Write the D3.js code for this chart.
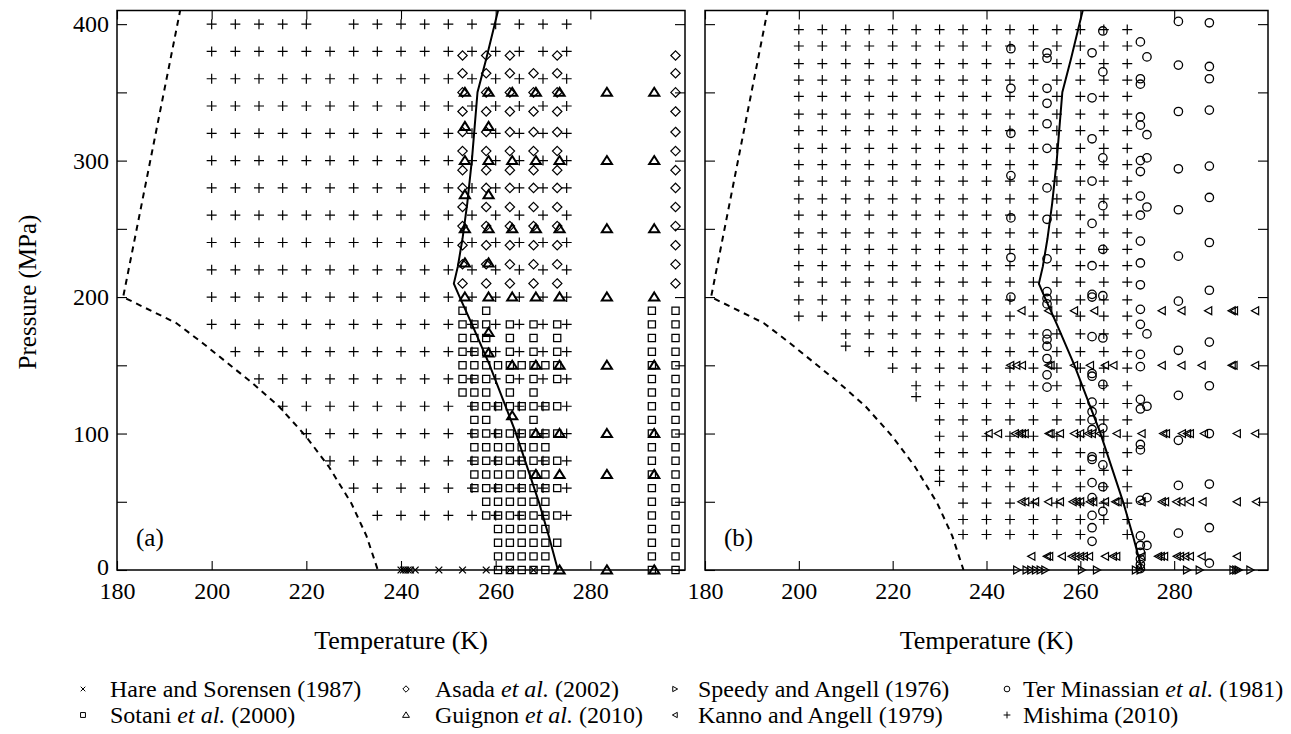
<!DOCTYPE html>
<html><head><meta charset="utf-8">
<script src="https://cdn.jsdelivr.net/npm/d3@7"></script>
<style>
body{margin:0;background:#fff;}
svg, svg text{font-family:'Liberation Serif','Times New Roman',Times,'DejaVu Serif',serif;}
</style></head><body>
<svg id="chart" width="1291" height="734" font-family="Liberation Serif, Times New Roman, Times, serif"></svg>
<script>
// ---------------- DATA ----------------
const tempTicks = [180, 200, 220, 240, 260, 280];
const pressTicks = [0, 50, 100, 150, 200, 250, 300, 350, 400];
const pressLabels = [0, 100, 200, 300, 400];

// melting curve (T [K], P [MPa])
const meltingCurve = [[273.15,0],[271.3,24],[269.2,49],[264.2,101],[258.75,150],[255,180],[252.4,200],[251.165,209.9],[252,222.3],[253,242.9],[254,268.7],[255,301.3],[256.164,350.1],[258,374.5],[260.6,411.3]];
// dashed line
const dashedCurve = [[193.4,411],[181.3,200],[192.5,181],[198.2,166],[208.6,137],[214.2,120],[219.9,98],[224.7,76],[229.5,49],[232.7,25],[235.1,0]];

// ---- panel (a) ----
const hareT = [240, 240.5, 241, 241.5, 242, 243, 248, 253, 258, 263, 268]; // at P = 0

const sotaniRows = [
 [190,[253,258,293,298]],
 [180,[253,255.5,258,263,268,273,293,298]],
 [170,[253,255.5,258,263,268,273,293,298]],
 [160,[253,255.5,258,263,268,273,293,298]],
 [150,[253,255.5,258,260.5,263,265.5,268,270.5,273,293,298]],
 [140,[253,255.5,258,263,268,273,293,298]],
 [130,[253,255.5,258,263,268,293,298]],
 [120,[255.5,258,260.5,263,265.5,268,270.5,273,293,298]],
 [110,[255.5,258,268,293,298]],
 [100,[255.5,258,260.5,263,265.5,268,270.5,273,293,298]],
 [90,[255.5,258,260.5,263,265.5,268,270.5,293,298]],
 [80,[255.5,258,260.5,263,265.5,268,270.5,273,293,298]],
 [70,[255.5,258,260.5,263,265.5,268,270.5,293,298]],
 [60,[255.5,258,260.5,263,265.5,268,270.5,273,293,298]],
 [50,[258,260.5,263,265.5,268,270.5,293,298]],
 [40,[258,260.5,263,265.5,268,270.5,273,293,298]],
 [30,[260.5,263,265.5,268,270.5,293,298]],
 [20,[260.5,263,265.5,268,270.5,273,293,298]],
 [10,[260.5,263,265.5,268,270.5,293,298]],
 [0,[260.5,263,265.5,268,270.5,293,298]]
];

const asadaRows = [
 [377,[253,258,263,273,298]],
 [364,[253,258,263,268,273,298]],
 [350,[253,258,263,268,273,298]],
 [336,[253,258,263,268,273,298]],
 [321,[253,258,263,268,273,298]],
 [307,[253,258,263,268,273,298]],
 [293,[253,258,263,268,273,298]],
 [280,[253,258,263,268,273,298]],
 [266,[253,258,263,268,273,298]],
 [252,[253,258,263,268,273,298]],
 [238,[253,258,263,268,273,298]],
 [224,[253,258,263,268,273,298]],
 [210,[253,258,263,268,273,298]]
];

const guignonRows = [
 [350,[253.5,258.5,263.5,268.5,273.5,283.5,293.5]],
 [325,[253.5,258.5]],
 [300,[253.5,258.5,263.5,268.5,273.5,283.5,293.5]],
 [275,[253.5,258.5]],
 [250,[253.5,258.5,263.5,268.5,273.5,283.5,293.5]],
 [225,[253.5,258.5]],
 [200,[253.5,258.5,263.5,268.5,273.5,283.5,293.5]],
 [174,[258.5]],
 [159,[258.5]],
 [150,[263.5,268.5,273.5,283.5,293.5]],
 [113,[263.5]],
 [100,[268.5,273.5,283.5,293.5]],
 [70,[268.5,273.5,283.5,293.5]],
 [0,[273.5,283.5,293.5]]
];

const mishimaRowsA = [
 [400,[200,205,210,215,220,230,235,240,245,250,255,260,265,270,275]],
 [380,[200,205,210,215,220,225,230,235,240,245,250,255,260,265,270,275]],
 [360,[200,205,210,215,220,225,230,235,240,245,250,255,260,265,270,275]],
 [340,[200,205,210,215,220,225,230,235,240,245,250,255,260,265,270,275]],
 [320,[200,205,210,215,220,225,230,235,240,245,250,255,260,265,270,275]],
 [300,[200,205,210,215,220,225,230,235,240,245,250,255,260,265,270,275]],
 [280,[200,205,210,215,220,225,230,235,240,245,250,255,260,265,270,275]],
 [260,[200,205,210,215,220,225,230,235,240,245,250,255,260,265,270,275]],
 [240,[200,205,210,215,220,225,230,235,240,245,250,255,260,265,270,275]],
 [220,[200,205,210,215,220,225,230,235,240,245,250,255,260,265,270,275]],
 [200,[200,205,210,215,220,225,230,235,240,245,250,255,260,265,270,275]],
 [180,[200,205,210,215,220,225,230,235,240,245,250,255,260,265,270,275]],
 [160,[205,210,215,220,225,230,235,240,245,250,255,260,265,270,275]],
 [140,[210,215,220,225,230,235,240,245,250,255,260,265,270,275]],
 [120,[215,220,225,230,235,240,245,250,255,260,265,270,275]],
 [100,[220,225,230,235,240,245,250,255,260,265,270,275]],
 [80,[225,230,235,240,245,250,255,260,265,270,275]],
 [60,[230,235,240,245,250,255,260,265,270,275]],
 [40,[235,240,245,250,255,260,265,270,275]]
];

// ---- panel (b) ----
const speedyT = [246.5, 248.5, 249.5, 250.5, 251.5, 252.5, 260.3, 263.5, 271.8, 272.8, 282.7, 285.4, 292.6, 293.2, 293.7, 296.2]; // at P = 0

const kannoRows = [
 [190,[247.5,253.2,258.7,263,277.4,281.6,287.3,292.3,292.8,297.3]],
 [150,[245.1,246.4,247.6,253.2,253.7,258.7,262.1,265.3,267.1,277.4,281.6,285.9,292.3,292.7,297.3]],
 [100,[240.5,242.5,246.1,247,247.6,248.2,253.3,253.7,255.7,258.7,260,261.7,262.5,264.2,267.8,273.1,277.7,278.3,281.7,282.8,283.4,286.4,293.4,297.3]],
 [50,[247.5,248.3,250.4,253.2,255.7,258.4,259.2,260,262.1,262.8,265.3,267.5,268,273.1,277.4,278.1,280.5,281.6,283.4,286.1,293.4,297.5]],
 [10,[249.6,252.9,253.4,256.1,258.2,259,260,260.8,261.9,265.3,267,267.7,273.1,276.6,277.2,277.9,280.6,281.3,282.4,283.4,285.9,293.4]]
];

const terMinassianCols = [
 [245.2,[382,353,320,289,258,229,200]],
 [252.9,[379,375,353,342,327,309,280,257,228,204,199,195,173,169,164,155,143,134]],
 [262.5,[379,346,316,285,254,223,202,200,171,144,142,123,116,110,103,83,81,64,53,40,31,21]],
 [264.8,[395,365,302,267,235,201,170,136,104,77,61,43]],
 [272.8,[387,360,356,332,326,300,292,274,260,241,225,209,191,180,158,149,125,118,92,88,51,25,18,13,8,4,1]],
 [274.2,[376,319,302,266,173,120,53,18]],
 [280.9,[402,370,336,294,264,230,197,161,128,95,62,27]],
 [287.5,[401,369,360,337,296,273,240,205,167,135,100,63,31,5]]
];

const mishimaRowsB = [
 [396,[200,205,210,215,220,225,230,235,240,245,250,255,260,265,270]],
 [384,[200,205,210,215,220,225,230,235,240,245,250,255,260,265,270]],
 [371,[200,205,210,215,220,225,230,235,240,245,250,255,260,265,270]],
 [359,[200,205,210,215,220,225,230,235,240,245,250,255,260,265,270]],
 [347,[200,205,210,215,220,225,230,235,240,245,250,255,260,265,270]],
 [334,[200,205,210,215,220,225,230,235,240,245,250,255,260,265,270]],
 [322,[200,205,210,215,220,225,230,235,240,245,250,255,260,265,270]],
 [309,[200,205,210,215,220,225,230,235,240,245,250,255,260,265,270]],
 [297,[200,205,210,215,220,225,230,235,240,245,250,255,260,265,270]],
 [285,[200,205,210,215,220,225,230,235,240,245,250,255,260,265,270]],
 [272,[200,205,210,215,220,225,230,235,240,245,250,255,260,265,270]],
 [260,[200,205,210,215,220,225,230,235,240,245,250,255,260,265,270]],
 [247,[200,205,210,215,220,225,230,235,240,245,250,255,260,265,270]],
 [235,[200,205,210,215,220,225,230,235,240,245,250,255,260,265,270]],
 [223,[200,205,210,215,220,225,230,235,240,245,250,255,260,265,270]],
 [211,[200,205,210,215,220,225,230,235,240,245,250,255,260,265,270]],
 [198,[200,205,210,215,220,225,230,235,240,245,250,255,260,265,270]],
 [186,[200,205,210,215,220,225,230,235,240,245,250,255,260,265,270]],
 [173,[210,215,220,225,230,235,240,245,250,255,260,265,270]],
 [164,[210]],
 [160,[215,220,225,230,235,240,245,250,255,260,265,270]],
 [148,[220,225,230,235,240,245,250,255,260,265,270]],
 [135,[225,230,235,240,245,250,255,260,265,270]],
 [127,[225]],
 [122,[230,235,240,245,250,255,260,265,270]],
 [110,[230,235,240,245,250,255,260,265,270]],
 [98,[230,235,240,245,250,255,260,265,270]],
 [86,[230,235,240,245,250,255,260,265,270]],
 [73,[230,235,240,245,250,255,260,265,270]],
 [65,[230]],
 [61,[235,240,245,250,255,260,265,270]],
 [49,[235,240,245,250,255,260,265,270]],
 [37,[235,240,245,250,255,260,265,270]],
 [26,[235,240,245,250,255,260,270]]
];

// ---------------- DRAWING ----------------
const FONT = "'Liberation Serif', 'Times New Roman', Times, 'DejaVu Serif', serif";
const svg = d3.select('#chart');
const yTop = 10.5, yBot = 570;
const y = d3.scaleLinear().domain([0, 410]).range([yBot, yTop]);

const SYM = {
  plus:    {d: s => `M${-s},0H${s}M0,${-s}V${s}`, s: 5.0, sw: 1.2},
  cross:   {d: s => `M${-s},${-s}L${s},${s}M${-s},${s}L${s},${-s}`, s: 3.4, sw: 1.3},
  square:  {d: s => `M${-s},${-s}H${s}V${s}H${-s}Z`, s: 3.6, sw: 1.25},
  diamond: {d: s => `M0,${-s}L${s},0L0,${s}L${-s},0Z`, s: 4.7, sw: 1.2},
  triUp:   {d: s => `M0,${-s}L${s*1.1},${s*0.75}L${-s*1.1},${s*0.75}Z`, s: 4.6, sw: 2.0},
  triRight:{d: s => `M${s},0L${-s*0.85},${-s}L${-s*0.85},${s}Z`, s: 3.9, sw: 1.2},
  triLeft: {d: s => `M${-s},0L${s*0.85},${-s}L${s*0.85},${s}Z`, s: 3.9, sw: 1.2},
  circle:  {d: s => `M${s},0A${s},${s} 0 1,1 ${-s},0A${s},${s} 0 1,1 ${s},0Z`, s: 4.2, sw: 1.3}
};

const fromRows = rows => rows.flatMap(([p, ts]) => ts.map(t => [t, p]));
const fromCols = cols => cols.flatMap(([t, ps]) => ps.map(p => [t, p]));

function addPoints(g, x, pts, sym) {
  const S = SYM[sym];
  g.append('g').selectAll('path').data(pts).join('path')
    .attr('d', S.d(S.s))
    .attr('transform', d => `translate(${x(d[0])},${y(d[1])})`)
    .attr('fill', 'none').attr('stroke', '#000')
    .attr('stroke-width', S.sw);
}

function txt(sel) { return sel.attr('font-family', FONT).attr('fill', '#000'); }

const panels = [
  {id: 'a', x0: 117, x1: 685, label: '(a)', yLabels: true},
  {id: 'b', x0: 705, x1: 1268, label: '(b)', yLabels: false}
];

panels.forEach(P => {
  const x = d3.scaleLinear().domain([180, 300]).range([P.x0, P.x1]);
  P.x = x;
  const g = svg.append('g');

  svg.append('clipPath').attr('id', 'clip' + P.id).append('rect')
    .attr('x', P.x0).attr('y', yTop).attr('width', P.x1 - P.x0).attr('height', yBot - yTop);

  const styleAxis = sel => {
    sel.attr('font-family', FONT);
    sel.select('.domain').remove();
    sel.selectAll('.tick line').attr('stroke', '#000').attr('stroke-width', 1.1);
    sel.selectAll('.tick text').attr('font-family', FONT).attr('font-size', 24).attr('fill', '#000');
  };
  g.append('g').attr('transform', `translate(0,${yBot})`)
    .call(d3.axisBottom(x).tickValues(tempTicks).tickSizeInner(-9).tickSizeOuter(0).tickPadding(12).tickFormat(d3.format('d')))
    .call(styleAxis);
  g.append('g').attr('transform', `translate(0,${yTop})`)
    .call(d3.axisTop(x).tickValues(tempTicks).tickSizeInner(-9).tickSizeOuter(0).tickFormat(''))
    .call(styleAxis);
  const ly = g.append('g').attr('transform', `translate(${P.x0},0)`)
    .call(d3.axisLeft(y).tickValues(pressTicks).tickSizeInner(-10).tickSizeOuter(0).tickPadding(8)
      .tickFormat(d => (P.yLabels && pressLabels.includes(d)) ? d : ''))
    .call(styleAxis);
  // lift the "0" label slightly so it does not collide with the x labels
  ly.selectAll('.tick').filter(d => d === 0).select('text').attr('dy', '0.2em');
  g.append('g').attr('transform', `translate(${P.x1},0)`)
    .call(d3.axisRight(y).tickValues(pressTicks).tickSizeInner(-10).tickSizeOuter(0).tickFormat(''))
    .call(styleAxis);

  g.append('rect').attr('x', P.x0).attr('y', yTop).attr('width', P.x1 - P.x0).attr('height', yBot - yTop)
    .attr('fill', 'none').attr('stroke', '#000').attr('stroke-width', 1.5);

  const line = d3.line().x(d => x(d[0])).y(d => y(d[1]));
  const lg = g.append('g').attr('clip-path', `url(#clip${P.id})`);
  lg.append('path').datum(dashedCurve).attr('d', line).attr('fill', 'none')
    .attr('stroke', '#000').attr('stroke-width', 2).attr('stroke-dasharray', '6,5');
  lg.append('path').datum(meltingCurve).attr('d', line).attr('fill', 'none')
    .attr('stroke', '#000').attr('stroke-width', 2);

  g.append('text').attr('x', P.x0 + 19).attr('y', 546).attr('font-size', 25).call(txt).text(P.label);

  g.append('text').attr('x', (P.x0 + P.x1) / 2).attr('y', 649).attr('text-anchor', 'middle')
    .attr('font-size', 26).call(txt).text('Temperature (K)');

  P.g = g;
});

svg.append('text').attr('transform', 'translate(36,292) rotate(-90)').attr('text-anchor', 'middle')
  .attr('font-size', 25).call(txt).text('Pressure (MPa)');

const A = panels[0];
addPoints(A.g, A.x, fromRows(mishimaRowsA), 'plus');
addPoints(A.g, A.x, fromRows(asadaRows), 'diamond');
addPoints(A.g, A.x, fromRows(sotaniRows), 'square');
addPoints(A.g, A.x, hareT.map(t => [t, 0]), 'cross');
addPoints(A.g, A.x, fromRows(guignonRows), 'triUp');

const B = panels[1];
addPoints(B.g, B.x, fromRows(mishimaRowsB), 'plus');
addPoints(B.g, B.x, fromCols(terMinassianCols), 'circle');
addPoints(B.g, B.x, fromRows(kannoRows), 'triLeft');
addPoints(B.g, B.x, speedyT.map(t => [t, 0]), 'triRight');

// legend
const legendItems = [
  {sym: 'cross',    parts: [['Hare and Sorensen (1987)', false]]},
  {sym: 'diamond',  parts: [['Asada ', false], ['et al.', true], [' (2002)', false]]},
  {sym: 'triRight', parts: [['Speedy and Angell (1976)', false]]},
  {sym: 'circle',   parts: [['Ter Minassian ', false], ['et al.', true], [' (1981)', false]]},
  {sym: 'square',   parts: [['Sotani ', false], ['et al.', true], [' (2000)', false]]},
  {sym: 'triUp',    parts: [['Guignon ', false], ['et al.', true], [' (2010)', false]]},
  {sym: 'triLeft',  parts: [['Kanno and Angell (1979)', false]]},
  {sym: 'plus',     parts: [['Mishima (2010)', false]]}
];
const legSymX = [83, 406, 675, 1007];
const legTextX = [110, 435, 698, 1023];
const legRowY = [697, 723];
const leg = svg.append('g');
legendItems.forEach((it, i) => {
  const col = i % 4, row = Math.floor(i / 4);
  const S = SYM[it.sym];
  leg.append('path').attr('d', S.d(S.s * 0.68))
    .attr('transform', `translate(${legSymX[col]},${legRowY[row] - 8})`)
    .attr('fill', 'none').attr('stroke', '#000').attr('stroke-width', 1);
  const t = leg.append('text').attr('x', legTextX[col]).attr('y', legRowY[row]).attr('font-size', 24).call(txt);
  it.parts.forEach(([s, ital]) => {
    t.append('tspan').attr('font-style', ital ? 'italic' : 'normal').text(s);
  });
});
</script></body></html>
